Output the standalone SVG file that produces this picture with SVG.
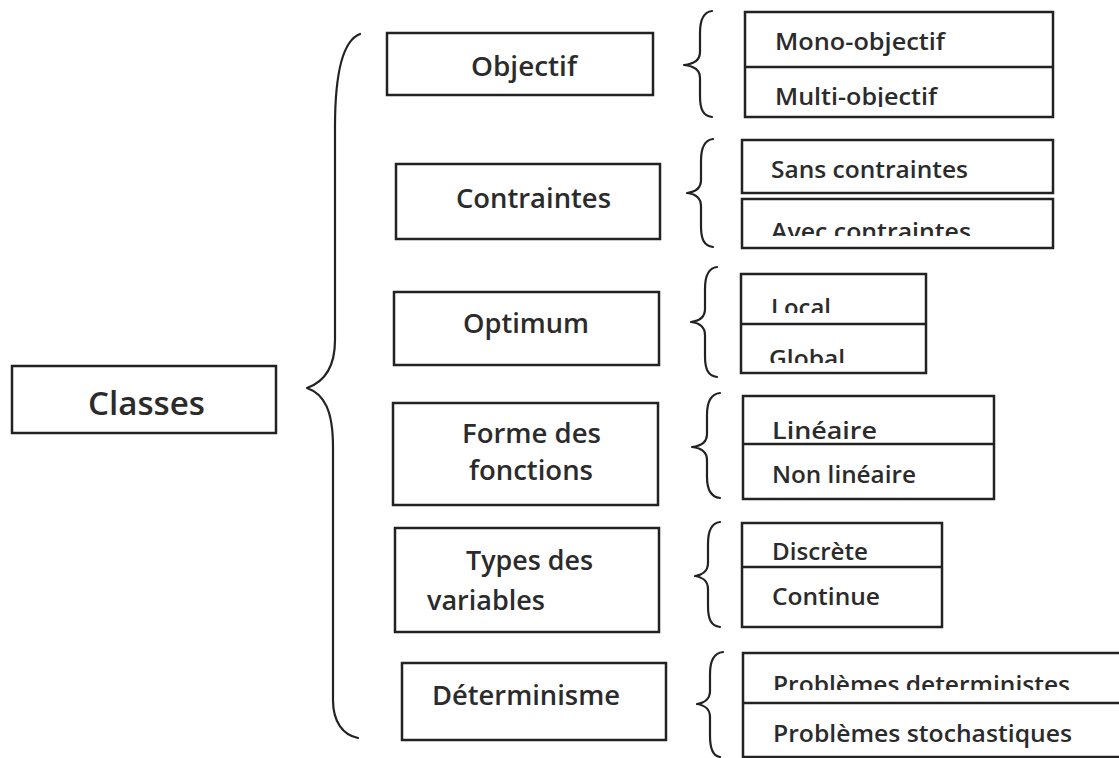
<svg xmlns="http://www.w3.org/2000/svg" width="1119" height="758" viewBox="0 0 1119 758">
<style>
.box{fill:#fff;stroke:#222;stroke-width:2.5}
.div{stroke:#222;stroke-width:2.5;fill:none}
.br{fill:none;stroke:#222;stroke-width:2.2;stroke-linecap:round;stroke-linejoin:round}
.t{font-family:"Open Sans","Liberation Sans",sans-serif;font-weight:600;fill:#2b2b2b}
.big{font-size:32px}
.mid{font-size:27px}
.sm{font-size:23px}
</style>
<defs>
<clipPath id="cMulti"><rect x="740" y="60" width="320" height="47"/></clipPath>
<clipPath id="cAvec"><rect x="740" y="200" width="320" height="36"/></clipPath>
<clipPath id="cLocal"><rect x="740" y="276" width="190" height="37"/></clipPath>
<clipPath id="cGlobal"><rect x="740" y="326" width="190" height="37"/></clipPath>
<clipPath id="cDet"><rect x="740" y="655" width="379" height="35"/></clipPath>
</defs>
<rect width="1119" height="758" fill="#fff"/>

<g id="connectors">
<path class="br" d="M360 34 C344 40 335 70 335 127 L335 340 C335 368 324 382 307 388 C324 394 333 410 333 447 L333 700 C333 722 343 735 358 738"/>
<path class="br" d="M712 11 C703 12 700 20 700 33 L700 52 C700 60 694 64 684 65 C694 66 700 70 700 78 L700 96 C700 109 703 116 712 117"/>
<path class="br" d="M713 139 C704 140 701 148 701 161 L701 180 C701 188 695 192 687 193 C695 194 701 198 701 206 L701 226 C701 239 704 246 713 247"/>
<path class="br" d="M717 267 C708 268 705 276 705 289 L705 309 C705 317 699 321 691 322 C699 323 705 327 705 335 L705 356 C705 369 708 376 717 377"/>
<path class="br" d="M720 393 C711 394 707 402 707 415 L707 434 C707 442 701 446 692 447 C701 448 707 452 707 460 L707 477 C707 490 711 497 720 498"/>
<path class="br" d="M720 522 C711 523 708 531 708 544 L708 563 C708 571 702 575 695 576 C702 577 708 581 708 589 L708 606 C708 619 711 626 720 627"/>
<path class="br" d="M723 652 C714 653 710 661 710 674 L710 691 C710 699 704 703 697 704 C704 705 710 709 710 717 L710 736 C710 749 713 756 720 757"/>
</g>

<g id="classes">
<rect class="box" x="12" y="366" width="264" height="67"/>
<text class="t big" x="88" y="415" textLength="117" lengthAdjust="spacingAndGlyphs">Classes</text>
</g>

<g id="objectif">
<rect class="box" x="387" y="33" width="266" height="62"/>
<text class="t mid" x="471" y="76" textLength="106" lengthAdjust="spacingAndGlyphs">Objectif</text>
</g>
<g id="contraintes">
<rect class="box" x="396" y="164" width="264" height="75"/>
<text class="t mid" x="456" y="208" textLength="155" lengthAdjust="spacingAndGlyphs">Contraintes</text>
</g>
<g id="optimum">
<rect class="box" x="394" y="292" width="265" height="73"/>
<text class="t mid" x="463" y="333" textLength="126" lengthAdjust="spacingAndGlyphs">Optimum</text>
</g>
<g id="forme">
<rect class="box" x="393" y="403" width="265" height="102"/>
<text class="t mid" x="462" y="443" textLength="139" lengthAdjust="spacingAndGlyphs">Forme des</text>
<text class="t mid" x="469" y="480" textLength="124" lengthAdjust="spacingAndGlyphs">fonctions</text>
</g>
<g id="types">
<rect class="box" x="395" y="528" width="264" height="104"/>
<text class="t mid" x="466" y="570" textLength="127" lengthAdjust="spacingAndGlyphs">Types des</text>
<text class="t mid" x="427" y="610" textLength="118" lengthAdjust="spacingAndGlyphs">variables</text>
</g>
<g id="determinisme">
<rect class="box" x="402" y="663" width="264" height="77"/>
<text class="t mid" x="432" y="705" textLength="188" lengthAdjust="spacingAndGlyphs">Déterminisme</text>
</g>

<g id="objectif-items">
<rect class="box" x="745" y="12" width="308" height="105"/>
<line class="div" x1="745" y1="67" x2="1053" y2="67"/>
<text class="t sm" x="775" y="50" textLength="170" lengthAdjust="spacingAndGlyphs">Mono-objectif</text>
<text class="t sm" x="775" y="105" textLength="162" lengthAdjust="spacingAndGlyphs" clip-path="url(#cMulti)">Multi-objectif</text>
</g>
<g id="contraintes-items">
<rect class="box" x="742" y="140" width="311" height="53"/>
<rect class="box" x="742" y="199" width="311" height="49"/>
<text class="t sm" x="771" y="178" textLength="197" lengthAdjust="spacingAndGlyphs">Sans contraintes</text>
<text class="t sm" x="771" y="240" textLength="200" lengthAdjust="spacingAndGlyphs" clip-path="url(#cAvec)">Avec contraintes</text>
</g>
<g id="optimum-items">
<rect class="box" x="741" y="274" width="185" height="99"/>
<line class="div" x1="741" y1="324" x2="926" y2="324"/>
<text class="t sm" x="771" y="316" textLength="60" lengthAdjust="spacingAndGlyphs" clip-path="url(#cLocal)">Local</text>
<text class="t sm" x="769" y="367" textLength="76" lengthAdjust="spacingAndGlyphs" clip-path="url(#cGlobal)">Global</text>
</g>
<g id="forme-items">
<rect class="box" x="743" y="396" width="251" height="103"/>
<line class="div" x1="743" y1="444" x2="994" y2="444"/>
<text class="t sm" x="772" y="439" textLength="105" lengthAdjust="spacingAndGlyphs">Linéaire</text>
<text class="t sm" x="772" y="483" textLength="144" lengthAdjust="spacingAndGlyphs">Non linéaire</text>
</g>
<g id="types-items">
<rect class="box" x="742" y="523" width="200" height="104"/>
<line class="div" x1="742" y1="567" x2="942" y2="567"/>
<text class="t sm" x="772" y="560" textLength="96" lengthAdjust="spacingAndGlyphs">Discrète</text>
<text class="t sm" x="772" y="605" textLength="108" lengthAdjust="spacingAndGlyphs">Continue</text>
</g>
<g id="determinisme-items">
<rect class="box" x="743" y="653" width="400" height="104"/>
<line class="div" x1="743" y1="703" x2="1119" y2="703"/>
<text class="t sm" x="773" y="693" textLength="297" lengthAdjust="spacingAndGlyphs" clip-path="url(#cDet)">Problèmes deterministes</text>
<text class="t sm" x="773" y="742" textLength="299" lengthAdjust="spacingAndGlyphs">Problèmes stochastiques</text>
</g>
</svg>
